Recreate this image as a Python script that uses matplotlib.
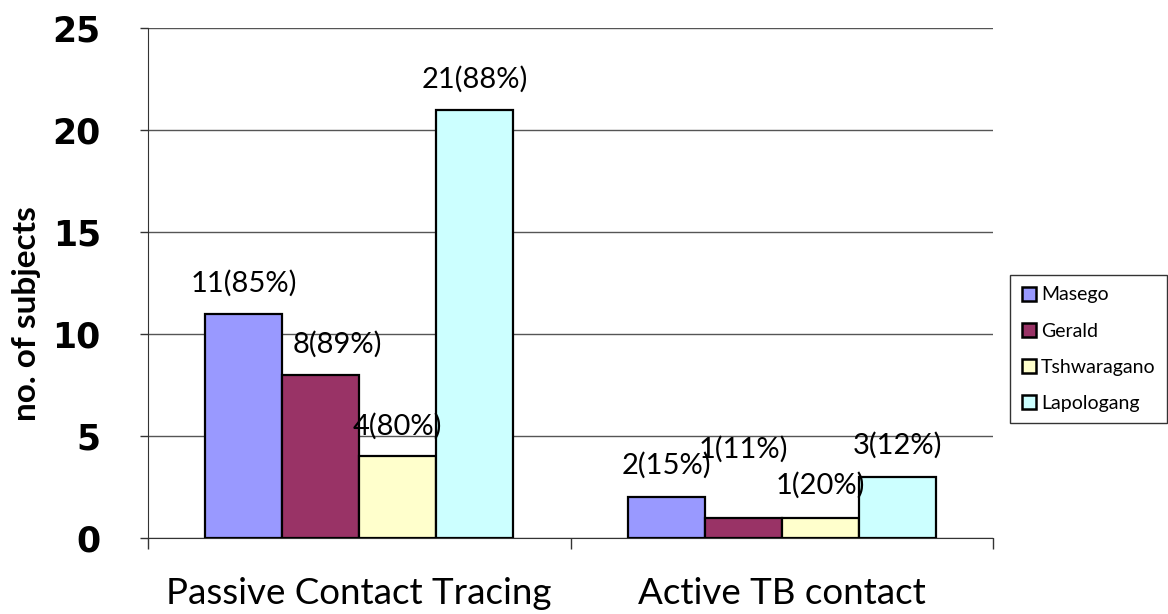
import numpy as np
import matplotlib.pyplot as plt

# donnees
categories = ['Passive Contact Tracing', 'Active TB contact']
sites = ['Masego', 'Gerald', 'Tshwaragano', 'Lapologang']
masego = [11, 2]
gerald = [8, 1]
tshwaragano = [4, 1]
lapologang = [21, 3]
labels_masego = ['11(85%)', '2(15%)']
labels_gerald = ['8(89%)', '1(11%)']
labels_tshwaragano = ['4(80%)', '1(20%)']
labels_lapologang = ['21(88%)', '3(12%)']

colors = ['#9999FF', '#993366', '#FFFFCC', '#CCFFFF']
series = [masego, gerald, tshwaragano, lapologang]
series_labels = [labels_masego, labels_gerald, labels_tshwaragano, labels_lapologang]
# decalages des etiquettes (points), comme dans l'original
offsets = [[(0, 22), (0, 23)],
           [(12, 22), (0, 49)],
           [(0, 22), (0, 23)],
           [(0, 22), (0, 23)]]

plt.rcParams['font.family'] = ['Lato', 'DejaVu Sans']

fig = plt.figure(figsize=(11.68, 6.14), dpi=100)
ax = fig.add_axes([0.1267, 0.1238, 0.8502 - 0.1267, 0.9544 - 0.1238])

x = np.arange(len(categories))
w = 0.182
for k, (vals, lab) in enumerate(zip(series, series_labels)):
    pos = x + (k - 1.5) * w
    ax.bar(pos, vals, w, color=colors[k], edgecolor='black', linewidth=1.6,
           label=sites[k], zorder=3)
    for p, v, t, off in zip(pos, vals, lab, offsets[k]):
        ax.annotate(t, xy=(p, v), xytext=off, textcoords='offset points',
                    ha='center', va='center', fontsize=21, zorder=4)

ax.set_xlim(-0.5, 1.5)
ax.set_ylim(0, 25)
ax.set_yticks(range(0, 26, 5))
ax.set_yticklabels([str(v) for v in range(0, 26, 5)], family='DejaVu Sans',
                   fontweight='bold', fontsize=25)
ax.yaxis.grid(True, color='#555555', linewidth=1, zorder=0)

# graduations aux limites des categories
ax.set_xticks([-0.5, 0.5, 1.5])
ax.set_xticklabels([])
ax.tick_params(axis='x', length=8, width=1, color='#333333')
ax.tick_params(axis='y', length=6, width=1, color='#333333', pad=28)
ax.set_xticks(x, minor=True)
ax.set_xticklabels(categories, minor=True, fontsize=26.5)
ax.tick_params(axis='x', which='minor', length=0, pad=28)

for s in ['top', 'right']:
    ax.spines[s].set_visible(False)
ax.spines['left'].set_color('#333333')
ax.spines['bottom'].set_color('#333333')

ax.set_ylabel('no. of subjects', fontsize=24, fontweight='bold')
ax.yaxis.set_label_coords(-0.127, 0.44)

leg = ax.legend(loc='upper left', bbox_to_anchor=(1.02, 0.516), fontsize=14,
                frameon=True, fancybox=False, edgecolor='black',
                handlelength=0.75, handleheight=0.75, handletextpad=0.25,
                labelspacing=0.98, borderpad=0.6, borderaxespad=0)
leg.get_frame().set_linewidth(1)
for h in leg.legend_handles:
    h.set_linewidth(1.8)

fig.savefig('out.png', dpi=100)
